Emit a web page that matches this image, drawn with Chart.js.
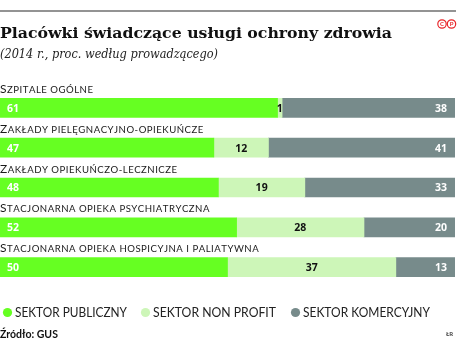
<!DOCTYPE html>
<html>
<head>
<meta charset="utf-8">
<script src="https://cdn.jsdelivr.net/npm/chart.js@4.4.1/dist/chart.umd.min.js"></script>
<style>
  html, body { margin: 0; padding: 0; background: #fff; }
  #wrap { position: relative; width: 460px; height: 352px; }
</style>
</head>
<body>
<div id="wrap"><canvas id="chart" width="460" height="352"></canvas></div>
<script>
// dane
const categories = ['Szpitale ogólne', 'Zakłady pielęgnacyjno-opiekuńcze', 'Zakłady opiekuńczo-lecznicze',
  'Stacjonarna opieka psychiatryczna', 'Stacjonarna opieka hospicyjna i paliatywna'];
const publiczny = [61, 47, 48, 52, 50];
const nonProfit = [1, 12, 19, 28, 37];
const komercyjny = [38, 41, 33, 20, 13];
const seriesNames = ['SEKTOR PUBLICZNY', 'SEKTOR NON PROFIT', 'SEKTOR KOMERCYJNY'];

const colors = ['#66ff22', '#cdf6b8', '#778b8b'];

// tekst kapitalikami (pierwsza litera większa)
function drawSmallCaps(ctx, text, x, y) {
  ctx.save();
  ctx.letterSpacing = '0.5px';
  ctx.textBaseline = 'alphabetic';
  ctx.textAlign = 'left';
  for (const ch of text) {
    const isUpper = ch === ch.toUpperCase() && ch !== ch.toLowerCase();
    ctx.font = isUpper ? '12px Lato' : '9.6px Lato';
    const c = ch.toUpperCase();
    ctx.fillText(c, x, y);
    x += ctx.measureText(c).width;
  }
  ctx.restore();
}

function fitText(ctx, text, x, y, width) {
  const w = ctx.measureText(text).width;
  ctx.save();
  ctx.translate(x, y);
  ctx.scale(width / w, 1);
  ctx.fillText(text, 0, 0);
  ctx.restore();
}

const decorations = {
  id: 'decorations',
  afterDatasetsDraw(chart) {
    const ctx = chart.ctx;
    ctx.save();
    // linia u góry
    ctx.strokeStyle = '#6f6f6f';
    ctx.lineWidth = 1.5;
    ctx.beginPath();
    ctx.moveTo(0, 11);
    ctx.lineTo(456, 11);
    ctx.stroke();

    // tytuł
    ctx.fillStyle = '#111';
    ctx.textBaseline = 'alphabetic';
    ctx.textAlign = 'left';
    ctx.font = 'bold 15.5px "DejaVu Serif"';
    fitText(ctx, 'Placówki świadczące usługi ochrony zdrowia', 0, 38, 392);
    ctx.font = 'italic 12px "DejaVu Serif"';
    ctx.fillStyle = '#222';
    fitText(ctx, '(2014 r., proc. według prowadzącego)', 0, 58, 218);

    // logo
    ctx.strokeStyle = '#e8262a';
    ctx.fillStyle = '#e8262a';
    ctx.lineWidth = 1.2;
    [[442, 'C'], [451.5, 'P']].forEach(([cx, t]) => {
      ctx.beginPath();
      ctx.arc(cx, 24, 4.2, 0, Math.PI * 2);
      ctx.stroke();
      ctx.font = 'bold 6px Lato';
      ctx.textAlign = 'center';
      ctx.textBaseline = 'middle';
      ctx.fillText(t, cx, 24.3);
    });

    // etykiety kategorii i wartości
    const meta0 = chart.getDatasetMeta(0);
    meta0.data.forEach((bar, i) => {
      ctx.fillStyle = '#1a1a1a';
      drawSmallCaps(ctx, categories[i], 0, bar.y - 15);
    });
    chart.data.datasets.forEach((ds, di) => {
      const meta = chart.getDatasetMeta(di);
      meta.data.forEach((bar, i) => {
        ctx.font = 'bold 10.5px "Open Sans"';
        ctx.textBaseline = 'middle';
        const v = ds.data[i];
        if (di === 0) {
          ctx.fillStyle = '#ffffff';
          ctx.textAlign = 'left';
          ctx.fillText(v, bar.base + 7, bar.y + 1);
        } else if (di === 1) {
          ctx.fillStyle = '#111';
          ctx.textAlign = 'center';
          ctx.fillText(v, (bar.base + bar.x) / 2, bar.y + 1);
        } else {
          ctx.fillStyle = '#ffffff';
          ctx.textAlign = 'right';
          ctx.fillText(v, bar.x - 8, bar.y + 1);
        }
      });
    });

    // legenda
    ctx.textBaseline = 'alphabetic';
    ctx.textAlign = 'left';
    ctx.font = '13px Lato';
    const legendX = [3, 141, 291];
    const legendW = [112, 123, 127];
    chart.data.datasets.forEach((ds, di) => {
      const lx = legendX[di];
      ctx.fillStyle = ds.backgroundColor;
      ctx.beginPath();
      ctx.arc(lx + 4.5, 312.5, 4.6, 0, Math.PI * 2);
      ctx.fill();
      ctx.fillStyle = '#222';
      fitText(ctx, ds.label, lx + 12, 317, legendW[di]);
    });

    // źródło
    ctx.fillStyle = '#111';
    ctx.font = 'bold 10.5px Lato';
    ctx.fillText('Źródło: GUS', 0, 338);
    ctx.font = 'bold 6px Lato';
    ctx.fillStyle = '#444';
    ctx.fillText('ŁR', 446, 336);
    ctx.restore();
  }
};

new Chart(document.getElementById('chart'), {
  type: 'bar',
  data: {
    labels: categories,
    datasets: [
      { label: seriesNames[0], data: publiczny, backgroundColor: colors[0] },
      { label: seriesNames[1], data: nonProfit, backgroundColor: colors[1] },
      { label: seriesNames[2], data: komercyjny, backgroundColor: colors[2] }
    ]
  },
  options: {
    indexAxis: 'y',
    responsive: false,
    animation: false,
    maintainAspectRatio: false,
    layout: { padding: { top: 88, bottom: 65, left: 0, right: 5 } },
    datasets: { bar: { barThickness: 19, borderWidth: 0 } },
    scales: {
      x: { stacked: true, min: 0, max: 100, display: false },
      y: { stacked: true, display: false }
    },
    plugins: {
      legend: { display: false },
      tooltip: { enabled: false }
    }
  },
  plugins: [decorations]
});
</script>
</body>
</html>
